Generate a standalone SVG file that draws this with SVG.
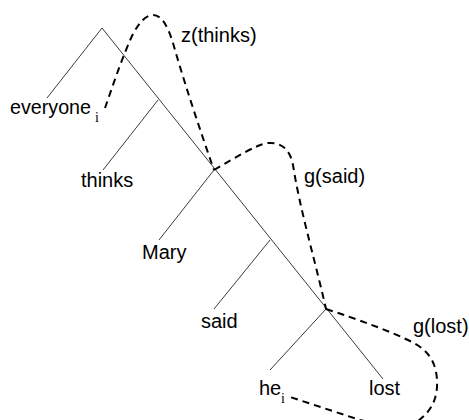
<svg xmlns="http://www.w3.org/2000/svg" width="469" height="420" viewBox="0 0 469 420">
<style>
.edge{stroke:#3a3a3a;stroke-width:1;fill:none}
.dash{stroke:#000;stroke-width:2;fill:none;stroke-dasharray:7,5}
.lbl{font-family:"Liberation Sans",Arial,sans-serif;font-size:20px;fill:#000}
.sub{font-family:"Liberation Serif","Times New Roman",serif;font-size:14px;fill:#000}
</style>
<rect width="469" height="420" fill="#fff"/>
<g id="edges">
<line class="edge" x1="102" y1="28" x2="47" y2="98"/>
<line class="edge" x1="102" y1="28" x2="383" y2="379"/>
<line class="edge" x1="158" y1="100" x2="103" y2="170"/>
<line class="edge" x1="214" y1="170" x2="159" y2="240"/>
<line class="edge" x1="270" y1="240" x2="214" y2="309"/>
<line class="edge" x1="326" y1="309" x2="270" y2="370"/>
</g>
<g id="connectors">
<path class="dash" d="M105,108 C113,85 122,58 132,36 C139,22 146,15 153,15 C162,15 168,27 173,43 C185,85 200,130 214,170"/>
<path class="dash" d="M214,170 C235,158 255,145 268,143 C282,142 290,150 293,165 C300,210 315,260 326,309"/>
<path class="dash" d="M326,309 C360,320 392,332 412,342 C430,351 438,365 437,387 C436,402 430,412 418,421 C405,428 380,425 360,420 L290,397"/>
</g>
<g id="everyone"><text class="lbl" x="10" y="114" textLength="81" lengthAdjust="spacingAndGlyphs">everyone</text><text class="sub" x="95" y="122">i</text></g>
<g id="thinks"><text class="lbl" x="81" y="187">thinks</text></g>
<g id="Mary"><text class="lbl" x="142" y="259">Mary</text></g>
<g id="said"><text class="lbl" x="201" y="328">said</text></g>
<g id="he"><text class="lbl" x="259" y="395">he</text><text class="sub" x="281" y="403">i</text></g>
<g id="lost"><text class="lbl" x="369" y="395">lost</text></g>
<g id="z-thinks"><text class="lbl" x="181" y="42">z(thinks)</text></g>
<g id="g-said"><text class="lbl" x="304" y="183">g(said)</text></g>
<g id="g-lost"><text class="lbl" x="413" y="333">g(lost)</text></g>
</svg>
